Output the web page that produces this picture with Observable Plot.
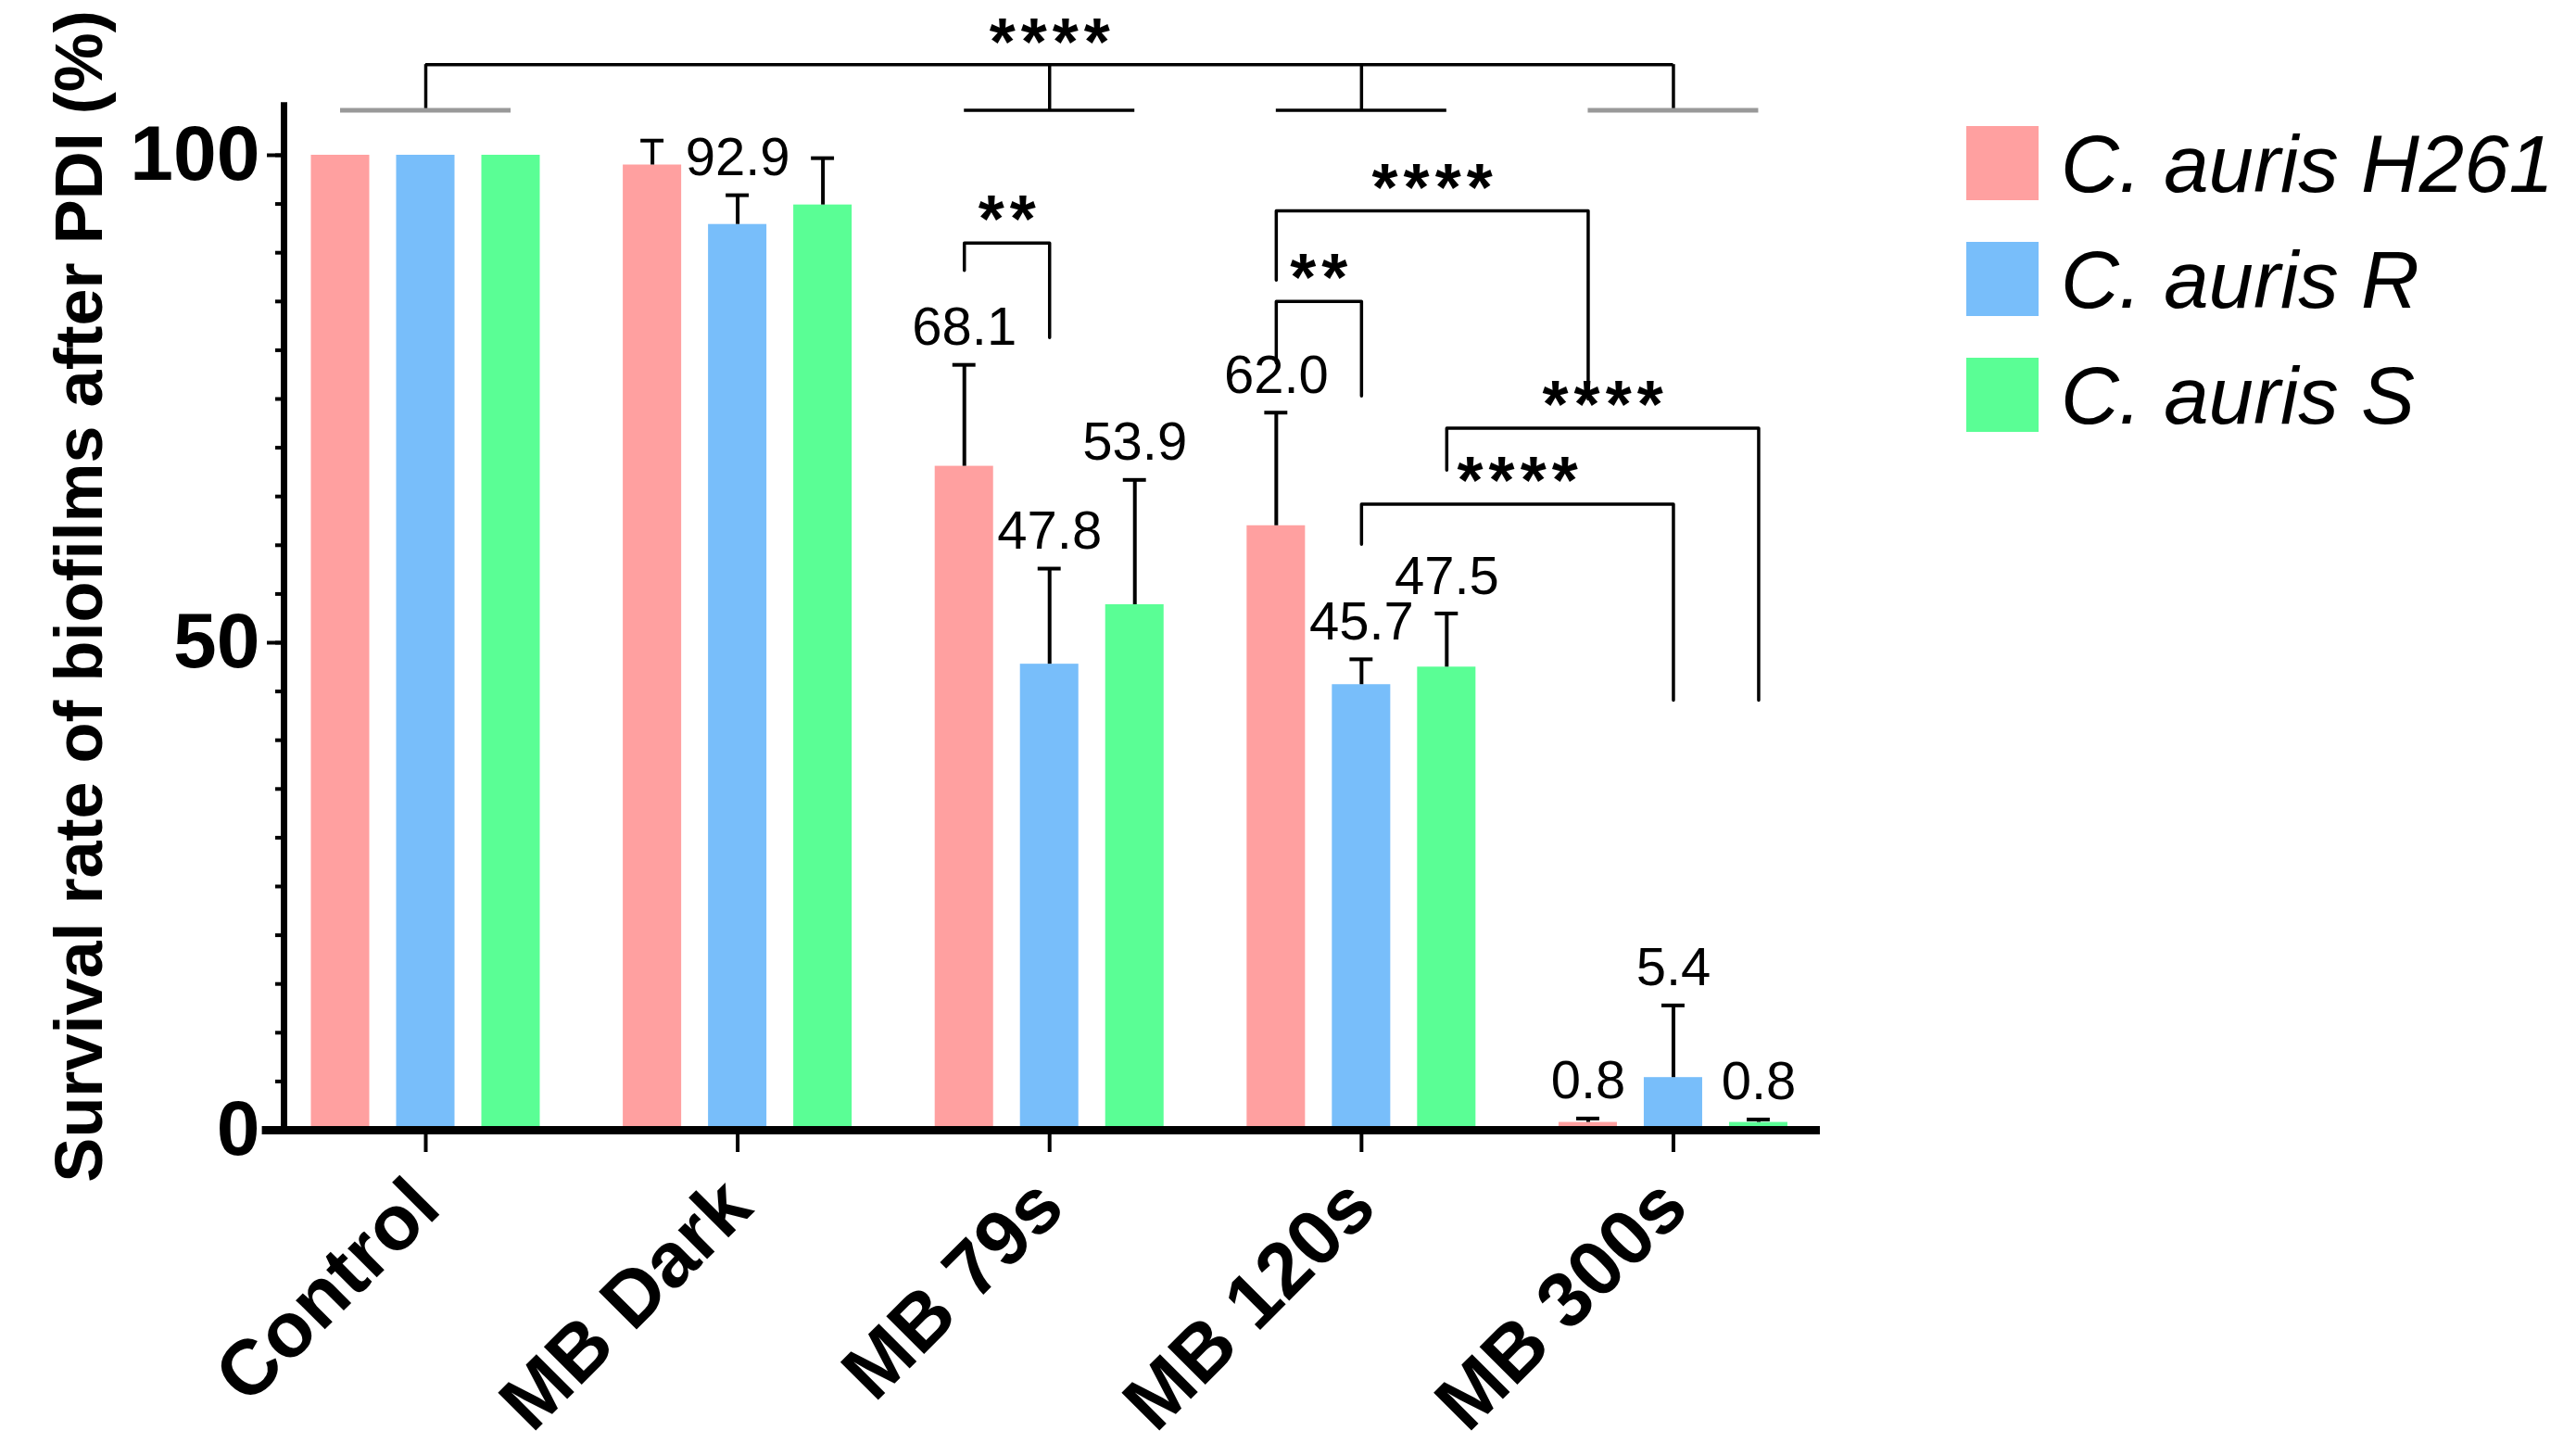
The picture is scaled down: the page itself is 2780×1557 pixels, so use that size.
<!DOCTYPE html>
<html>
<head>
<meta charset="utf-8">
<script src="https://cdn.jsdelivr.net/npm/d3@7"></script>
<script src="https://cdn.jsdelivr.net/npm/@observablehq/plot@0.6"></script>
<style>
  body { margin: 0; background: #fff; font-family: "Liberation Sans", Arial, sans-serif; }
  #wrap { position: relative; width: 2780px; height: 1557px; }
  #legend { position: absolute; left: 2122px; top: 136px; }
  .item { display: flex; align-items: center; height: 80px; margin-bottom: 45px; }
  .sw { width: 78px; height: 80px; margin-right: 24px; }
  .lab { font-style: italic; font-size: 87px; color: #000; line-height: 1; }
</style>
</head>
<body>
<div id="wrap"><div id="myplot"></div><div id="legend"></div></div>
<script>
const groups = ["Control", "MB Dark", "MB 79s", "MB 120s", "MB 300s"];
const strains = ["C. auris H261", "C. auris R", "C. auris S"];
const colors = ["#ffa0a0", "#78befa", "#5afe95"];

// mean survival (%) and upper error (SD) per strain, in group order
const meanH261 = [100, 99.0, 68.1, 62.0, 0.8];
const meanR = [100, 92.9, 47.8, 45.7, 5.4];
const meanS = [100, 94.9, 53.9, 47.5, 0.8];
const sdH261 = [0, 2.5, 10.4, 11.6, 0.4];
const sdR = [0, 3.0, 9.8, 2.6, 7.4];
const sdS = [0, 4.8, 12.8, 5.5, 0.3];
// which bars carry a value label
const labelH261 = [false, false, true, true, true];
const labelR = [false, true, true, true, true];
const labelS = [false, false, true, true, true];

// pairwise comparisons: [group, strain] ends, bracket top, leg ends, stars
const brackets = [
  { a: ["MB 79s", "C. auris H261"], b: ["MB 79s", "C. auris R"], top: 91.0, endA: 88.2, endB: 81.3, stars: "**" },
  { a: ["MB 120s", "C. auris H261"], b: ["MB 120s", "C. auris R"], top: 85.0, endA: 78.7, endB: 75.3, stars: "**" },
  { a: ["MB 120s", "C. auris H261"], b: ["MB 300s", "C. auris H261"], top: 94.3, endA: 87.2, endB: 75.0, stars: "****" },
  { a: ["MB 120s", "C. auris S"], b: ["MB 300s", "C. auris S"], top: 72.0, endA: 67.7, endB: 44.1, stars: "****" },
  { a: ["MB 120s", "C. auris R"], b: ["MB 300s", "C. auris R"], top: 64.2, endA: 60.1, endB: 44.1, stars: "****" },
];
// overall comparison across groups
const overallGroups = ["Control", "MB 79s", "MB 120s", "MB 300s"];
const overallTop = 109.3;
const overallFoot = 104.6;
const overallStars = "****";
const overallStarsAt = "MB 79s";

const yLabel = "Survival rate of biofilms after PDI (%)";

// layout
const offs = [-0.2733, 0, 0.2733];
const halfW = 0.0936;
const capW = 0.037;
const xDomain = [-0.4545, 4.471];
const xAxisStart = -0.524;
const greyGroups = ["Control", "MB 300s"];

const pos = (g, s) => groups.indexOf(g) + offs[strains.indexOf(s)];
const spaced = (t) => t.split("").join("\u200a");

const means = [meanH261, meanR, meanS];
const sds = [sdH261, sdR, sdS];
const labs = [labelH261, labelR, labelS];
const rows = groups.flatMap((g, i) =>
  strains.map((s, j) => ({
    group: g, strain: s, x: pos(g, s),
    mean: means[j][i], sd: sds[j][i], top: means[j][i] + sds[j][i], labelled: labs[j][i],
  }))
);

const bracketPts = brackets.flatMap((b, k) => {
  const xa = pos(...b.a), xb = pos(...b.b);
  return [
    { id: k, x: xa, y: b.endA },
    { id: k, x: xa, y: b.top },
    { id: k, x: xb, y: b.top },
    { id: k, x: xb, y: b.endB },
  ];
});

const plot = Plot.plot({
  width: 2780,
  height: 1557,
  marginLeft: 306,
  marginRight: 816,
  marginTop: 167,
  marginBottom: 338,
  x: { domain: xDomain },
  y: { domain: [0, 100] },
  color: { domain: strains, range: colors },
  style: { fontFamily: "Liberation Sans, Arial, sans-serif", color: "#000", background: "white", overflow: "visible" },
  marks: [
    Plot.rectY(rows, { x1: (d) => d.x - halfW, x2: (d) => d.x + halfW, y1: 0, y2: "mean", fill: "strain" }),
    Plot.ruleX(rows.filter((d) => d.sd > 0), { x: "x", y1: "mean", y2: "top", stroke: "#000", strokeWidth: 4 }),
    Plot.ruleY(rows.filter((d) => d.sd > 0), { y: "top", x1: (d) => d.x - capW, x2: (d) => d.x + capW, stroke: "#000", strokeWidth: 4 }),
    Plot.text(rows.filter((d) => d.labelled), {
      x: "x", y: "top", text: (d) => d.mean.toFixed(1), dy: -40, fontSize: 58, fill: "#000",
    }),
    // pairwise brackets
    Plot.line(bracketPts, { x: "x", y: "y", z: "id", stroke: "#000", strokeWidth: 3.5, curve: "linear" }),
    Plot.text(brackets, {
      x: (b) => (pos(...b.a) + pos(...b.b)) / 2, y: "top", text: (b) => spaced(b.stars),
      dy: -24, fontSize: 72, fontWeight: "bold", fill: "#000",
    }),
    // overall comparison
    Plot.ruleY([overallTop], {
      x1: groups.indexOf(overallGroups[0]), x2: groups.indexOf(overallGroups[overallGroups.length - 1]),
      stroke: "#000", strokeWidth: 3.5,
    }),
    Plot.ruleX(overallGroups, { x: (g) => groups.indexOf(g), y1: overallFoot, y2: overallTop, stroke: "#000", strokeWidth: 3.5 }),
    Plot.ruleY(overallGroups, {
      y: overallFoot, x1: (g) => groups.indexOf(g) + offs[0], x2: (g) => groups.indexOf(g) + offs[2],
      stroke: (g) => (greyGroups.includes(g) ? "#999" : "#000"),
      strokeWidth: (g) => (greyGroups.includes(g) ? 5 : 3.5),
    }),
    Plot.text([overallStars], {
      x: groups.indexOf(overallStarsAt), y: overallTop, text: (d) => spaced(d),
      dy: -23, fontSize: 72, fontWeight: "bold", fill: "#000",
    }),
    // axes
    Plot.axisY({ ticks: d3.range(0, 101, 5), tickSize: 9, text: null, label: null, strokeWidth: 4 }),
    Plot.axisY({ ticks: [0, 50, 100], tickSize: 18, tickPadding: 8, fontSize: 84, fontWeight: "bold", label: null, strokeWidth: 4 }),
    Plot.axisX({
      ticks: d3.range(groups.length), tickFormat: (i) => groups[i], tickRotate: -45,
      tickSize: 24, tickPadding: 44, fontSize: 84, fontWeight: "bold", label: null, strokeWidth: 4,
    }),
    Plot.ruleX([xDomain[0]], { y1: 0, y2: 105.4, stroke: "#000", strokeWidth: 7 }),
    Plot.ruleY([0], { x1: xAxisStart, x2: xDomain[1], stroke: "#000", strokeWidth: 9 }),
    Plot.text([yLabel], {
      frameAnchor: "left", rotate: -90, textAnchor: "middle", dx: -220, dy: -50,
      fontSize: 72, fontWeight: "bold", fill: "#000",
    }),
  ],
});

document.querySelector("#myplot").append(plot);

const legend = document.querySelector("#legend");
strains.forEach((s, i) => {
  const item = document.createElement("div");
  item.className = "item";
  item.innerHTML = `<div class="sw" style="background:${colors[i]}"></div><span class="lab">${s}</span>`;
  legend.append(item);
});
</script>
</body>
</html>
